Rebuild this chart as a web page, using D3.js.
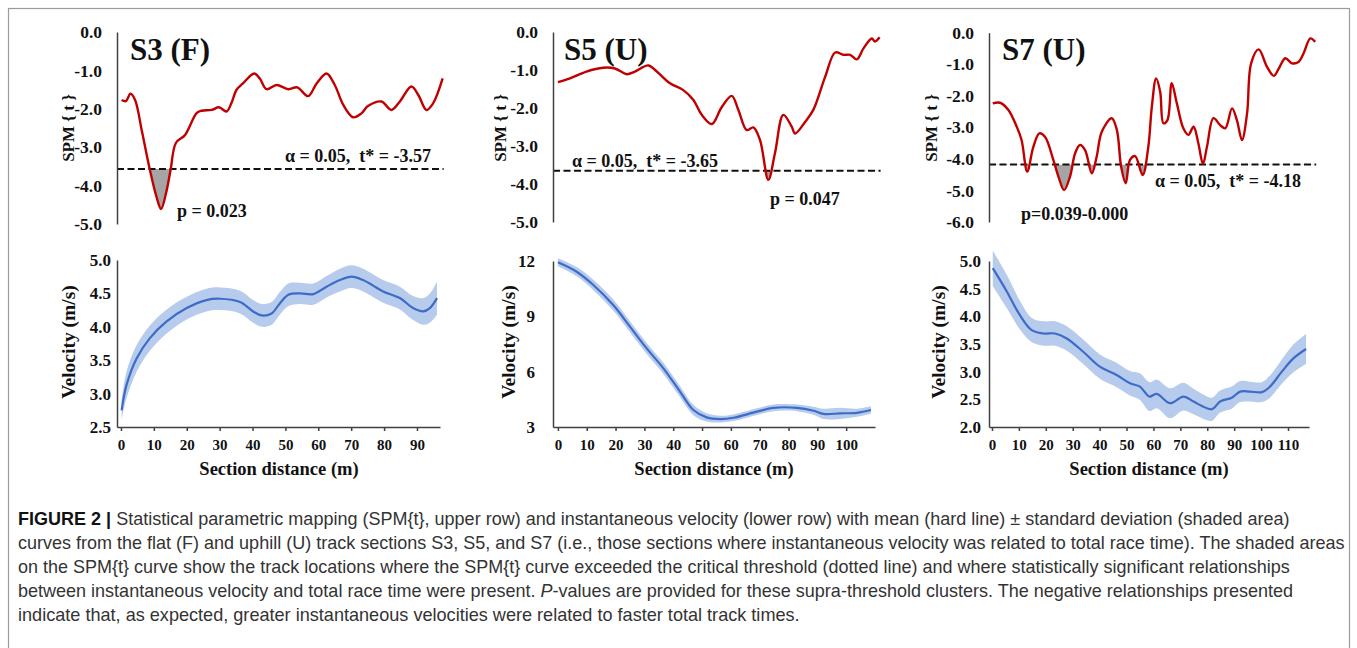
<!DOCTYPE html>
<html>
<head>
<meta charset="utf-8">
<script src="https://cdn.jsdelivr.net/npm/d3@7"></script>
<style>
  body { margin: 0; background: #fff; }
  svg { display: block; }
</style>
</head>
<body>
<script>
// ---- data ----
// S3 (flat) SPM{t}
const s3SpmDist = [0.2, 1.5, 2.9, 4.3, 6.3, 8.8, 10.8, 12.2, 13.7, 15.1, 16.7, 19.5, 23, 24.5, 27.6, 29.8, 32.1, 33.6, 35.1, 37.1, 40.5, 42.2, 44.3, 47.3, 50.9, 53.6, 56.9, 59.5, 62.5, 65, 67.6, 70.6, 73.1, 75.1, 79.2, 82.2, 84.8, 88.3, 90.4, 92.9, 94.9, 97.8];
const s3SpmT = [-1.77, -1.8, -1.61, -1.77, -2.55, -3.59, -4.29, -4.61, -4.2, -3.59, -2.89, -2.68, -2.11, -2.05, -2.03, -1.96, -2.07, -1.85, -1.51, -1.34, -1.08, -1.21, -1.49, -1.38, -1.49, -1.44, -1.67, -1.34, -1.08, -1.38, -1.9, -2.22, -2.12, -1.93, -1.81, -2.03, -1.81, -1.42, -1.64, -2.03, -1.86, -1.21];
// S5 (uphill) SPM{t}
const s5SpmDist = [0, 4.2, 9.9, 15.7, 19.8, 23.9, 26.7, 31.4, 34.3, 38.9, 43.5, 47, 49.9, 53.4, 56.8, 60.3, 62.6, 65.5, 67.8, 70.1, 73, 75.3, 78.2, 81.1, 82.3, 85.8, 88.6, 92.7, 96.2, 99, 101.4, 103.7, 106, 108.9, 110, 111.6];
const s5SpmT = [-1.32, -1.22, -1.04, -0.94, -0.96, -1.11, -1.04, -0.88, -1.04, -1.35, -1.53, -1.79, -2.18, -2.42, -1.98, -1.68, -2.05, -2.58, -2.51, -2.84, -3.89, -3.19, -2.18, -2.49, -2.67, -2.36, -2.05, -1.18, -0.54, -0.6, -0.6, -0.72, -0.43, -0.17, -0.25, -0.14];
// S7 (uphill) SPM{t}
const s7SpmDist = [0.3, 3, 6.1, 9.2, 11, 13.1, 15.4, 17.6, 19.7, 22.8, 24.7, 26.8, 29, 30.9, 32.7, 34.6, 37.1, 38.9, 40.8, 44.5, 46.4, 48, 49.7, 51.3, 53.2, 56, 58.1, 59.4, 61, 62.5, 63.7, 65.2, 66.8, 68.7, 71.1, 73, 74.9, 76.7, 78.4, 79.9, 82.3, 84.8, 86.7, 89.2, 91, 92.9, 94.8, 96.3, 99.1, 102.2, 104.7, 106.6, 109, 111.5, 114, 115.8, 118.3, 120.1];
const s7SpmT = [-2.24, -2.22, -2.45, -2.98, -3.4, -4.4, -3.61, -3.19, -3.3, -4.03, -4.56, -4.99, -4.56, -3.82, -3.56, -3.72, -4.46, -3.93, -3.14, -2.71, -3.08, -4.25, -4.77, -4.03, -3.91, -4.51, -3.61, -2.35, -1.45, -1.87, -2.87, -2.77, -1.6, -2.24, -3.03, -3.24, -2.98, -3.51, -4.16, -3.61, -2.71, -2.93, -3.03, -2.4, -2.77, -3.4, -2.55, -0.97, -0.53, -1.08, -1.37, -1.13, -0.81, -0.97, -0.92, -0.65, -0.18, -0.29];

const spmThresholds = [-3.57, -3.65, -4.18];
const spmTicksA = [0, -1, -2, -3, -4, -5];
const spmTicksB = [0, -1, -2, -3, -4, -5, -6];

// velocity mean +- sd
const s3VelDist = [0.2, 1.7, 4.8, 8.8, 13.9, 20, 26, 30.1, 36.2, 40.2, 42.8, 45.8, 48.3, 50.9, 54.4, 58.5, 62.5, 66.6, 70.1, 73.6, 79.7, 84.8, 88.8, 91.9, 93.9, 96.1];
const s3VelMean = [2.75, 3.13, 3.53, 3.83, 4.08, 4.28, 4.4, 4.42, 4.37, 4.23, 4.17, 4.2, 4.35, 4.48, 4.5, 4.49, 4.6, 4.7, 4.75, 4.7, 4.53, 4.43, 4.28, 4.23, 4.28, 4.43];
const s3VelSd = [0.14, 0.2, 0.2, 0.19, 0.18, 0.17, 0.17, 0.17, 0.17, 0.17, 0.17, 0.17, 0.17, 0.17, 0.16, 0.16, 0.16, 0.17, 0.17, 0.17, 0.17, 0.17, 0.18, 0.2, 0.22, 0.25];

const s5VelDist = [0, 6.5, 12.3, 19.2, 25, 30.8, 36.6, 42.4, 47, 51.6, 56.3, 60.9, 69, 74.8, 82.9, 88.7, 92.1, 97.9, 103.7, 108.6];
const s5VelMean = [11.93, 11.42, 10.7, 9.61, 8.44, 7.26, 6.18, 4.91, 3.92, 3.52, 3.43, 3.5, 3.83, 4.04, 4.04, 3.88, 3.71, 3.74, 3.77, 3.92];
const s5VelSd = [0.22, 0.25, 0.28, 0.3, 0.3, 0.3, 0.3, 0.3, 0.28, 0.22, 0.18, 0.18, 0.18, 0.18, 0.18, 0.22, 0.28, 0.3, 0.22, 0.2];

const s7VelDist = [0.3, 5.5, 10.4, 14.8, 19.1, 23.4, 27.8, 33.9, 40.1, 46.3, 51.3, 55, 58.5, 61.2, 66.2, 71.1, 74.9, 78, 81.7, 84.8, 89.1, 92.2, 95.9, 100.3, 103.3, 107.7, 112, 116.7];
const s7VelMean = [4.87, 4.45, 4.02, 3.75, 3.69, 3.69, 3.6, 3.36, 3.09, 2.94, 2.79, 2.73, 2.55, 2.6, 2.43, 2.55, 2.46, 2.38, 2.32, 2.46, 2.53, 2.64, 2.64, 2.63, 2.73, 3.0, 3.24, 3.41];
const s7VelSd = [0.32, 0.3, 0.26, 0.22, 0.22, 0.22, 0.22, 0.22, 0.22, 0.22, 0.22, 0.24, 0.26, 0.26, 0.27, 0.25, 0.23, 0.22, 0.21, 0.2, 0.2, 0.19, 0.18, 0.18, 0.2, 0.22, 0.25, 0.27];

const s3DistTicks = [0, 10, 20, 30, 40, 50, 60, 70, 80, 90];
const s5DistTicks = [0, 10, 20, 30, 40, 50, 60, 70, 80, 90, 100];
const s7DistTicks = [0, 10, 20, 30, 40, 50, 60, 70, 80, 90, 100, 110];
const s3VelTicks = [2.5, 3.0, 3.5, 4.0, 4.5, 5.0];
const s5VelTicks = [3, 6, 9, 12];
const s7VelTicks = [2.0, 2.5, 3.0, 3.5, 4.0, 4.5, 5.0];

const captionLines = [
  [['FIGURE 2 | ', 'b'], ['Statistical parametric mapping (SPM{t}, upper row) and instantaneous velocity (lower row) with mean (hard line) \u00b1 standard deviation (shaded area)', '']],
  [['curves from the flat (F) and uphill (U) track sections S3, S5, and S7 (i.e., those sections where instantaneous velocity was related to total race time). The shaded areas', '']],
  [['on the SPM{t} curve show the track locations where the SPM{t} curve exceeded the critical threshold (dotted line) and where statistically significant relationships', '']],
  [['between instantaneous velocity and total race time were present. ', ''], ['P', 'i'], ['-values are provided for these supra-threshold clusters. The negative relationships presented', '']],
  [['indicate that, as expected, greater instantaneous velocities were related to faster total track times.', '']]
];
const captionWidths = [1273, 1327, 1272, 1276, 782];

// ---- drawing ----
const W = 1357, H = 648;
const serif = '"Liberation Serif", "Times New Roman", serif';
const svg = d3.select('body').append('svg').attr('width', W).attr('height', H);
const defs = svg.append('defs');

svg.append('rect')
  .attr('x', 8.5).attr('y', 8.5).attr('width', 1341).attr('height', 700)
  .attr('fill', 'none').attr('stroke', '#9b9b9b').attr('stroke-width', 1.2);

const curve = d3.curveCatmullRom.alpha(0.5);

const columns = [
  {
    id: 's3', x: d3.scaleLinear().domain([-1.2, 97]).range([117, 440]),
    spmDist: s3SpmDist, spmT: s3SpmT, thr: spmThresholds[0],
    spmY: d3.scaleLinear().domain([-5, 0]).range([224, 32]), spmTicks: spmTicksA,
    title: 'S3 (F)', titleX: 130,
    alpha: { x: 431, y: 162, anchor: 'end' }, p: { text: 'p = 0.023', x: 177, y: 217 },
    velDist: s3VelDist, velMean: s3VelMean, velSd: s3VelSd,
    velY: d3.scaleLinear().domain([2.5, 5]).range([427, 260]), velTicks: s3VelTicks,
    velFmt: d => d.toFixed(1), velPad: 6, distTicks: s3DistTicks,
    spmLabelX: 68, velLabelX: 68, xLabelX: 279
  },
  {
    id: 's5', x: d3.scaleLinear().domain([-1.7, 110]).range([553, 875]),
    spmDist: s5SpmDist, spmT: s5SpmT, thr: spmThresholds[1],
    spmY: d3.scaleLinear().domain([-5, 0]).range([222, 32]), spmTicks: spmTicksA,
    title: 'S5 (U)', titleX: 564,
    alpha: { x: 572, y: 167, anchor: 'start' }, p: { text: 'p = 0.047', x: 770, y: 205 },
    velDist: s5VelDist, velMean: s5VelMean, velSd: s5VelSd,
    velY: d3.scaleLinear().domain([3, 12]).range([427, 261]), velTicks: s5VelTicks,
    velFmt: d => d.toFixed(0), velPad: 18, distTicks: s5DistTicks,
    spmLabelX: 500, velLabelX: 508, xLabelX: 714
  },
  {
    id: 's7', x: d3.scaleLinear().domain([-1.1, 117.8]).range([989, 1309]),
    spmDist: s7SpmDist, spmT: s7SpmT, thr: spmThresholds[2],
    spmY: d3.scaleLinear().domain([-6, 0]).range([222, 32.7]), spmTicks: spmTicksB,
    title: 'S7 (U)', titleX: 1002,
    alpha: { x: 1155, y: 187, anchor: 'start' }, p: { text: 'p=0.039-0.000', x: 1021, y: 220 },
    velDist: s7VelDist, velMean: s7VelMean, velSd: s7VelSd,
    velY: d3.scaleLinear().domain([2, 5]).range([427, 261]), velTicks: s7VelTicks,
    velFmt: d => d.toFixed(1), velPad: 8, distTicks: s7DistTicks,
    spmLabelX: 931, velLabelX: 938, xLabelX: 1149
  }
];

function styleAxis(g, size) {
  g.select('.domain').attr('stroke', '#404040').attr('stroke-width', 1.5);
  g.selectAll('.tick line').attr('stroke', '#404040').attr('stroke-width', 1.5);
  g.selectAll('.tick text')
    .attr('fill', '#111')
    .style('font-family', serif).style('font-weight', 'bold').style('font-size', size + 'px');
}

function drawSpm(c) {
  const g = svg.append('g');
  const x = c.x, y = c.spmY;
  const pts = d3.zip(c.spmDist, c.spmT);
  const x0 = x.range()[0];
  const xEnd = x(c.spmDist[c.spmDist.length - 1]);

  // supra-threshold clusters
  defs.append('clipPath').attr('id', 'clip-' + c.id)
    .append('rect').attr('x', x0).attr('y', y(c.thr)).attr('width', xEnd - x0).attr('height', 200);
  g.append('path').datum(pts)
    .attr('clip-path', `url(#clip-${c.id})`)
    .attr('fill', '#a5a5a5')
    .attr('d', d3.area().x(d => x(d[0])).y0(y(c.thr)).y1(d => y(d[1])).curve(curve));

  // threshold
  g.append('line')
    .attr('x1', x0).attr('x2', xEnd + 1).attr('y1', y(c.thr)).attr('y2', y(c.thr))
    .attr('stroke', '#111').attr('stroke-width', 2).attr('stroke-dasharray', '7,3.5');

  g.append('path').datum(pts)
    .attr('fill', 'none').attr('stroke', '#c00000').attr('stroke-width', 2.4)
    .attr('d', d3.line().x(d => x(d[0])).y(d => y(d[1])).curve(curve));

  const ax = g.append('g').attr('transform', `translate(${x0},0)`)
    .call(d3.axisLeft(y).tickValues(c.spmTicks).tickSize(0).tickSizeOuter(0).tickPadding(15)
      .tickFormat(d => d.toFixed(1)));
  styleAxis(ax, 17.5);

  const txt = (s, tx, ty, size, anchor) => g.append('text')
    .attr('x', tx).attr('y', ty).attr('text-anchor', anchor || 'start')
    .style('font-family', serif).style('font-weight', 'bold').style('font-size', size + 'px')
    .attr('fill', '#111').text(s);

  txt(c.title, c.titleX, 60, 31);
  txt('\u03b1 = 0.05,  t* = ' + c.thr.toFixed(2), c.alpha.x, c.alpha.y, 18, c.alpha.anchor)
    .style('white-space', 'pre');
  txt(c.p.text, c.p.x, c.p.y, 18);

  g.append('text')
    .attr('transform', `translate(${c.spmLabelX},128) rotate(-90)`)
    .attr('text-anchor', 'middle').attr('dy', '0.35em')
    .style('font-family', serif).style('font-weight', 'bold').style('font-size', '17px')
    .attr('fill', '#111').style('white-space', 'pre').text('SPM { t }');
}

function drawVel(c) {
  const g = svg.append('g');
  const x = c.x, y = c.velY;
  const pts = c.velDist.map((d, i) => ({ d, m: c.velMean[i], s: c.velSd[i] }));

  g.append('path').datum(pts)
    .attr('fill', '#b7cbec')
    .attr('d', d3.area().x(p => x(p.d)).y0(p => y(p.m - p.s)).y1(p => y(p.m + p.s)).curve(curve));
  g.append('path').datum(pts)
    .attr('fill', 'none').attr('stroke', '#3d6cc8').attr('stroke-width', 2.2)
    .attr('d', d3.line().x(p => x(p.d)).y(p => y(p.m)).curve(curve));

  const yAx = g.append('g').attr('transform', `translate(${x.range()[0]},0)`)
    .call(d3.axisLeft(y).tickValues(c.velTicks).tickSize(0).tickSizeOuter(0).tickPadding(c.velPad)
      .tickFormat(c.velFmt));
  styleAxis(yAx, 17);

  const xAx = g.append('g').attr('transform', `translate(0,${y.range()[0]})`)
    .call(d3.axisBottom(x).tickValues(c.distTicks).tickSize(4).tickSizeOuter(0).tickPadding(8));
  styleAxis(xAx, 15);

  g.append('text')
    .attr('x', c.xLabelX).attr('y', 475).attr('text-anchor', 'middle')
    .style('font-family', serif).style('font-weight', 'bold').style('font-size', '18.5px')
    .attr('fill', '#111').text('Section distance (m)');

  g.append('text')
    .attr('transform', `translate(${c.velLabelX},342) rotate(-90)`)
    .attr('text-anchor', 'middle').attr('dy', '0.35em')
    .style('font-family', serif).style('font-weight', 'bold').style('font-size', '19.5px')
    .attr('fill', '#111').text('Velocity (m/s)');
}

columns.forEach(c => { drawSpm(c); drawVel(c); });

// caption, each line fitted to the width it has in the figure
const cap = svg.append('g');
captionLines.forEach((segs, i) => {
  const t = cap.append('text')
    .attr('y', 0)
    .style('font-family', '"Liberation Sans Narrow", "Arial Narrow", "Liberation Sans", sans-serif')
    .style('font-size', '17.5px').attr('fill', '#333').style('white-space', 'pre');
  segs.forEach(([s, k]) => {
    const ts = t.append('tspan').text(s);
    if (k === 'b') ts.style('font-weight', 'bold').attr('fill', '#111');
    if (k === 'i') ts.style('font-style', 'italic');
  });
  const natural = t.node().getComputedTextLength();
  t.attr('transform', `translate(18,${525 + i * 24}) scale(${captionWidths[i] / natural},1)`);
});
</script>
</body>
</html>
